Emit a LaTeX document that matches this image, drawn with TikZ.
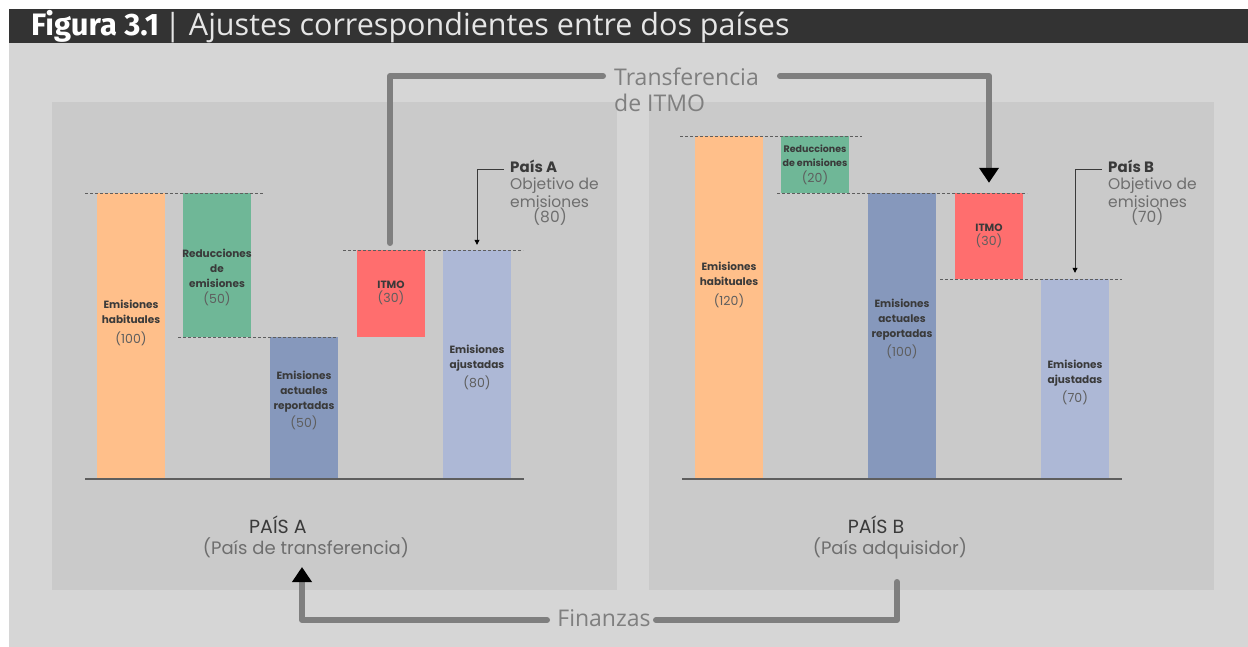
\documentclass[tikz,border=0pt]{standalone}
\usepackage{fontspec}
\setmainfont{Poppins}
\newfontfamily\osans{Open Sans}
\newfontfamily\fira{Fira Sans}
\usetikzlibrary{arrows.meta}
\definecolor{bgc}{HTML}{D6D6D6}
\definecolor{titlec}{HTML}{333333}
\definecolor{panelc}{HTML}{CACACA}
\definecolor{orangec}{HTML}{FFBF8A}
\definecolor{greenc}{HTML}{6FB797}
\definecolor{bluec}{HTML}{8698BC}
\definecolor{redc}{HTML}{FF6E6E}
\definecolor{lbluec}{HTML}{ADB8D6}
\definecolor{flowc}{HTML}{7F7F7F}
\definecolor{txtdark}{HTML}{3A3A3A}
\definecolor{txtnum}{HTML}{5E5E5E}
\definecolor{txtlight}{HTML}{6E6E6E}
\begin{document}
\begin{tikzpicture}[x=1pt,y=-1pt,
  bar/.style={rectangle,draw=none,inner sep=0pt,minimum width=68pt},
  barlbl/.style={align=center,inner sep=0pt,text=txtdark,font=\bfseries\fontsize{10.5}{15}\selectfont},
  dashln/.style={draw=txtnum,line width=0.9pt,dash pattern=on 3pt off 2pt},
  baseln/.style={draw=txtnum,line width=1.2pt},
  flow/.style={draw=flowc,line width=6pt,line cap=round,line join=round},
  bighead/.style={-{Triangle[width=19pt,length=15pt,color=black,fill=black]}},
  annotln/.style={draw=txtdark,line width=0.8pt,-{Triangle[width=5pt,length=5pt,color=black]}},
  anntitle/.style={anchor=base west,inner sep=0pt,text=txtdark,font=\bfseries\fontsize{15}{17}\selectfont},
  anntxt/.style={anchor=base west,inner sep=0pt,text=txtlight,font=\fontsize{15.5}{17}\selectfont},
  flowtxt/.style={inner sep=0pt,text=flowc,font=\osans\fontsize{23}{26}\selectfont},
  pais/.style={anchor=base,inner sep=0pt,text=txtdark,font=\fontsize{19}{20}\selectfont},
  paissub/.style={anchor=base,inner sep=0pt,text=txtlight,font=\fontsize{18}{20}\selectfont}
]
\newcommand{\nm}[1]{{\mdseries\fontsize{12.5}{15}\selectfont\color{txtnum}#1}}
\useasboundingbox (0,0) rectangle (1248,647);
\fill[white] (0,0) rectangle (1248,647);
\fill[bgc] (9,9) rectangle (1248,647);
\fill[titlec] (9,9) rectangle (1248,43);
\node[anchor=base west,inner sep=0pt,text=white] (title) at (31,36)
  {{\fira\bfseries\fontsize{31}{32}\selectfont Figura 3.1}{\osans\fontsize{30.5}{32}\selectfont\color[HTML]{E6E6E6} \,| Ajustes correspondientes entre dos países}};
\fill[panelc] (52,102) rectangle (617,590);
\fill[panelc] (649,102) rectangle (1214,590);

% ---- Pais A bars
\node[bar,fill=orangec,minimum height=286pt] (oA) at (131,336) {};
\node[bar,fill=greenc,minimum height=144pt] (gA) at (217,265) {};
\node[bar,fill=bluec,minimum height=142pt] (bA) at (304,408) {};
\node[bar,fill=redc,minimum height=87pt] (rA) at (391,293.5) {};
\node[bar,fill=lbluec,minimum height=229pt] (lA) at (477,364.5) {};
\draw[dashln] (85,193) -- (263,193);
\draw[dashln] (178,337) -- (336,337);
\draw[dashln] (343,250) -- (523,250);
\draw[baseln] (85,479) -- (524,479);

\node[barlbl] (oAl) at (131,323) {Emisiones\\habituales\\[5pt]\nm{(100)}};
\node[barlbl] (gAl) at (217,277) {Reducciones\\de\\emisiones\\[1pt]\nm{(50)}};
\node[barlbl] (bAl) at (304,400) {Emisiones\\actuales\\reportadas\\[3pt]\nm{(50)}};
\node[barlbl] (rAl) at (391,293) {ITMO\\[-1pt]\nm{(30)}};
\node[barlbl] (lAl) at (477,367) {Emisiones\\ajustadas\\[4pt]\nm{(80)}};

% ---- Pais B bars
\node[bar,fill=orangec,minimum height=343pt] (oB) at (729,307.5) {};
\node[bar,fill=greenc,minimum height=57pt] (gB) at (815,164.5) {};
\node[bar,fill=bluec,minimum height=286pt] (bB) at (902,336) {};
\node[bar,fill=redc,minimum height=86pt] (rB) at (989,236) {};
\node[bar,fill=lbluec,minimum height=200pt] (lB) at (1075,379) {};
\draw[dashln] (680,136) -- (862,136);
\draw[dashln] (777,193) -- (1027,193);
\draw[dashln] (940,279) -- (1122,279);
\draw[baseln] (682,479) -- (1122,479);

\node[barlbl] (oBl) at (729,285) {Emisiones\\habituales\\[5pt]\nm{(120)}};
\node[barlbl,font=\bfseries\fontsize{9.5}{14}\selectfont] (gBl) at (815,165) {Reducciones\\de emisiones\\[2pt]\nm{(20)}};
\node[barlbl] (bBl) at (902,329) {Emisiones\\actuales\\reportadas\\[4pt]\nm{(100)}};
\node[barlbl] (rBl) at (989,236) {ITMO\\[-1pt]\nm{(30)}};
\node[barlbl] (lBl) at (1075,382) {Emisiones\\ajustadas\\[4pt]\nm{(70)}};

% ---- annotations
\node[anntitle] (paT) at (510,173) {País A};
\node[anntxt] (pa1) at (510,190) {Objetivo de};
\node[anntxt] (pa2) at (510,208) {emisiones};
\node[anntxt] (pa3) at (533,223) {(80)};
\draw[annotln] ([xshift=-6pt,yshift=-3pt]paT.west) -| ([yshift=5pt]lA.north);

\node[anntitle] (pbT) at (1108,173) {País B};
\node[anntxt] (pb1) at (1108,190) {Objetivo de};
\node[anntxt] (pb2) at (1108,208) {emisiones};
\node[anntxt] (pb3) at (1131,223) {(70)};
\draw[annotln] ([xshift=-6pt,yshift=-3pt]pbT.west) -| ([yshift=6pt]lB.north);

% ---- panel labels
\node[pais] (pA) at (278,533) {PAÍS A};
\node[paissub] (pAs) at (306,554) {(País de transferencia)};
\node[pais] (pB) at (876,533) {PAÍS B};
\node[paissub] (pBs) at (890,554) {(País adquisidor)};

% ---- ITMO transfer
\node[flowtxt,anchor=west,align=left] (tr) at (614,90) {Transferencia\\de ITMO};
\coordinate (trS) at (390,243);
\coordinate (trL) at (603,76);
\coordinate (trR) at (780,76);
\draw[flow] (trS) |- (trL);
\draw[flow,bighead] (trR) -| ([yshift=10pt]rB.north);

% ---- Finance
\node[flowtxt] (fin) at (604,618) {Finanzas};
\coordinate (finS) at (897,582);
\coordinate (finR) at (656,620);
\coordinate (finL) at (547,620);
\coordinate (finE) at (302,567);
\draw[flow] (finS) |- (finR);
\draw[flow,bighead] (finL) -| (finE);
\end{tikzpicture}
\end{document}
